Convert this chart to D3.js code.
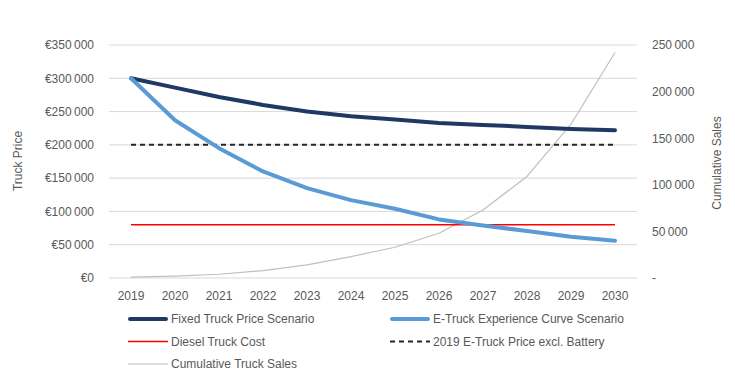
<!DOCTYPE html>
<html>
<head>
<meta charset="utf-8">
<script src="https://cdn.jsdelivr.net/npm/d3@7"></script>
<style>
  body { margin: 0; background: #fff; }
  svg text { font-family: "Liberation Sans", Arial, sans-serif; fill: #595959; }
</style>
</head>
<body>
<svg id="chart" width="735" height="385"></svg>
<script>
"use strict";

// ==========  Data  ==========
var years          = ["2019","2020","2021","2022","2023","2024","2025","2026","2027","2028","2029","2030"]
var fixedPrice     = [300000,286000,272000,260000,250000,243000,238000,233000,230000,227000,224000,222000]
var experiencePrice= [300000,237000,195000,160000,135000,117000,104000,88000,79000,70500,62000,56000]
var dieselCost     = [80000,80000,80000,80000,80000,80000,80000,80000,80000,80000,80000,80000]
var eTruckExclBatt = [200000,200000,200000,200000,200000,200000,200000,200000,200000,200000,200000,200000]
var cumulativeSales= [1000,2000,4000,8000,14000,23000,33000,48000,73000,109000,165000,242000]
var leftTicks      = [0,50000,100000,150000,200000,250000,300000,350000]
var rightTicks     = [0,50000,100000,150000,200000,250000]

// ==========  Layout  ==========
var svg     = d3.select('#chart')
var plotL   = 109, plotR = 637, plotT = 45, plotB = 278

var x  = d3.scaleBand().domain(years).range([plotL, plotR])
var yL = d3.scaleLinear().domain([0, 350000]).range([plotB, plotT])
var yR = d3.scaleLinear().domain([0, 250000]).range([plotB, plotT])
var cx = function(d, i) { return x(years[i]) + x.bandwidth() / 2 }

var spaced = d3.formatLocale({ decimal: ",", thousands: "\u2009", grouping: [3], currency: ["€", ""] })
var euro   = function(v) { return "€" + spaced.format(",")(v) }
var count  = function(v) { return v === 0 ? "-" : spaced.format(",")(v) }

// gridlines
svg.append('g').selectAll('line').data(leftTicks).join('line')
   .attr('x1', plotL).attr('x2', plotR)
   .attr('y1', function(d) { return yL(d) }).attr('y2', function(d) { return yL(d) })
   .attr('stroke', '#d9d9d9').attr('stroke-width', 1)

// left axis
var axL = svg.append('g').attr('transform', 'translate(' + plotL + ',0)')
   .call(d3.axisLeft(yL).tickValues(leftTicks).tickFormat(euro).tickSize(0).tickPadding(15))
axL.select('.domain').remove()
axL.selectAll('text').style('font-size', '12px').style('fill', '#595959')

// right axis
var axR = svg.append('g').attr('transform', 'translate(' + plotR + ',0)')
   .call(d3.axisRight(yR).tickValues(rightTicks).tickFormat(count).tickSize(0).tickPadding(15))
axR.select('.domain').remove()
axR.selectAll('text').style('font-size', '12px').style('fill', '#595959')

// x axis
var axX = svg.append('g').attr('transform', 'translate(0,' + plotB + ')')
   .call(d3.axisBottom(x).tickSize(0).tickPadding(13))
axX.select('.domain').remove()
axX.selectAll('text').style('font-size', '12px').style('fill', '#595959')

// axis titles
svg.append('text').attr('transform', 'translate(22,161) rotate(-90)')
   .attr('text-anchor', 'middle').style('font-size', '12px').text('Truck Price')
svg.append('text').attr('transform', 'translate(721,163) rotate(-90)')
   .attr('text-anchor', 'middle').style('font-size', '12px').text('Cumulative Sales')

// ==========  Series  ==========
var series = [
  { name: 'Fixed Truck Price Scenario',          values: fixedPrice,      scale: yL, color: '#1f3864', width: 4,   dash: null },
  { name: 'E-Truck Experience Curve Scenario',   values: experiencePrice, scale: yL, color: '#5b9bd5', width: 4,   dash: null },
  { name: 'Diesel Truck Cost',                   values: dieselCost,      scale: yL, color: '#ff0000', width: 1.5, dash: null },
  { name: '2019 E-Truck Price excl. Battery',    values: eTruckExclBatt,  scale: yL, color: '#262626', width: 2,   dash: '5,4' },
  { name: 'Cumulative Truck Sales',              values: cumulativeSales, scale: yR, color: '#bfbfbf', width: 1.2, dash: null }
]
var drawOrder = [4, 3, 2, 0, 1]

drawOrder.forEach(function(k) {
  var s = series[k]
  var line = d3.line().x(cx).y(function(d) { return s.scale(d) })
  svg.append('path').datum(s.values)
     .attr('d', line).attr('fill', 'none')
     .attr('stroke', s.color).attr('stroke-width', s.width)
     .attr('stroke-linecap', s.width >= 4 ? 'round' : 'butt')
     .attr('stroke-linejoin', 'round')
     .attr('stroke-dasharray', s.dash)
})

// ==========  Legend  ==========
var legendPos = [[128, 319], [390, 319], [128, 341.5], [390, 341.5], [128, 364]]
series.forEach(function(s, i) {
  var g = svg.append('g').attr('transform', 'translate(' + legendPos[i][0] + ',' + legendPos[i][1] + ')')
  g.append('line').attr('x1', s.width >= 4 ? 2 : 0).attr('x2', s.width >= 4 ? 38 : 40)
   .attr('stroke', s.color).attr('stroke-width', s.width)
   .attr('stroke-linecap', s.width >= 4 ? 'round' : 'butt')
   .attr('stroke-dasharray', s.dash)
  g.append('text').attr('x', 43).attr('dy', '0.35em').style('font-size', '12px').text(s.name)
})
</script>
</body>
</html>
